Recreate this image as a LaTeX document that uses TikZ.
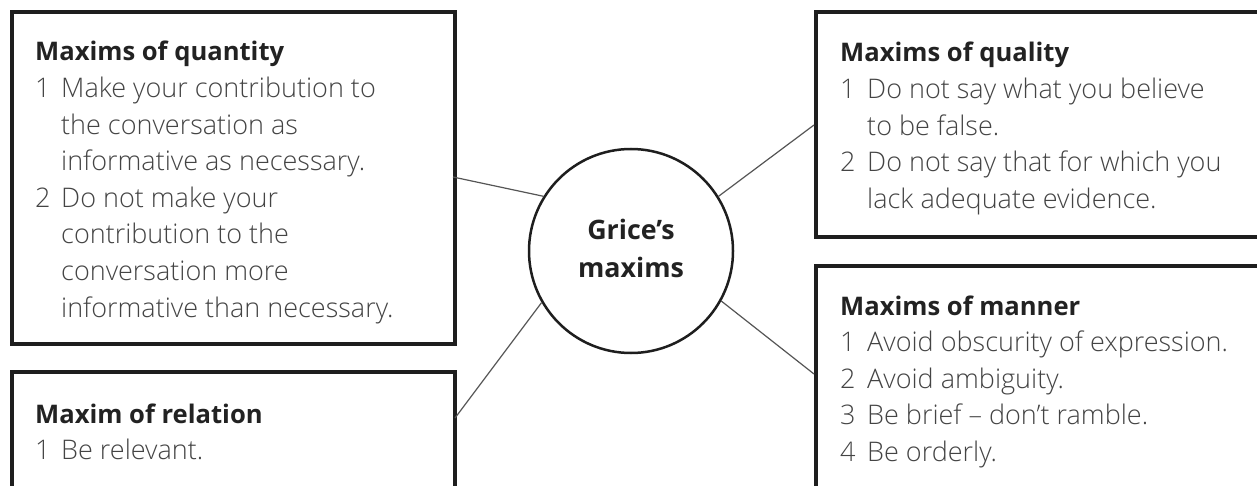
\documentclass[tikz,border=0pt]{standalone}
\usepackage{fontspec}
\usepackage{array}
\setmainfont{Open Sans Light}
\newfontfamily\headfamily{Open Sans}
\newcommand{\headfont}{\headfamily\bfseries}
\definecolor{framecol}{HTML}{1E1E1E}
\definecolor{bodycol}{HTML}{444444}
\definecolor{headcol}{HTML}{222222}
\definecolor{linkcol}{HTML}{555555}
\newcommand{\hd}[1]{\multicolumn{2}{@{}l@{}}{\headfont\fontsize{25.6}{36.6}\selectfont\color{headcol}#1}}
\tikzset{
  frame/.style={draw=framecol, line width=4pt, rectangle, anchor=north west, inner sep=0pt},
  hub/.style={draw=framecol, line width=2.5pt, circle, minimum size=204pt, inner sep=0pt, fill=white},
  block/.style={anchor=base west, inner sep=0pt, text=bodycol, font=\fontsize{27}{36.6}\selectfont},
  hubtext/.style={anchor=base, inner sep=0pt, text=headcol, font=\headfont\fontsize{26.8}{37}\selectfont},
  link/.style={draw=linkcol, line width=1.2pt}
}
\begin{document}
\begin{tikzpicture}[x=1pt,y=-1pt]
\useasboundingbox (0,0) rectangle (1257,486);
\clip (0,0) rectangle (1257,486);
\fill[white] (0,0) rectangle (1257,486);

% frames
\node[frame, minimum width=443pt, minimum height=332pt] (quant) at (10,10) {};
\node[frame, minimum width=443pt, minimum height=200pt] (rel) at (10,370) {};
\node[frame, minimum width=500pt, minimum height=225pt] (qual) at (814,10) {};
\node[frame, minimum width=500pt, minimum height=300pt] (mann) at (814,264) {};

% central circle
\node[hub] (gm) at (631,251) {};
\node[hubtext] (gmA) at (631,240) {Grice’s};
\node[hubtext] (gmB) at (631,277) {maxims};

% connector end points on the frames
\coordinate (quantEnd) at (453,177);
\coordinate (relEnd) at (455,418);
\coordinate (qualEnd) at (814,125);
\coordinate (mannEnd) at (814,374);

\draw[link] (gm.148.8) -- (quantEnd);
\draw[link] (gm.210.7) -- (relEnd);
\draw[link] (gm.32.3) -- (qualEnd);
\draw[link] (gm.-29.7) -- (mannEnd);

% texts
\node[block] (quantText) at (35,61) {\begin{tabular}[t]{@{}p{26pt}@{}l@{}}
\hd{Maxims of quantity}\\
1 & Make your contribution to\\
  & the conversation as\\
  & informative as necessary.\\
2 & Do not make your\\
  & contribution to the\\
  & conversation more\\
  & informative than necessary.
\end{tabular}};

\node[block] (relText) at (35,423) {\begin{tabular}[t]{@{}p{26pt}@{}l@{}}
\hd{Maxim of relation}\\
1 & Be relevant.
\end{tabular}};

\node[block] (qualText) at (840,62) {\begin{tabular}[t]{@{}p{27pt}@{}l@{}}
\hd{Maxims of quality}\\
1 & Do not say what you believe\\
  & to be false.\\
2 & Do not say that for which you\\
  & lack adequate evidence.
\end{tabular}};

\node[block] (mannText) at (840,315) {\begin{tabular}[t]{@{}p{27pt}@{}l@{}}
\hd{Maxims of manner}\\
1 & Avoid obscurity of expression.\\
2 & Avoid ambiguity.\\
3 & Be brief – don’t ramble.\\
4 & Be orderly.
\end{tabular}};
\end{tikzpicture}
\end{document}
